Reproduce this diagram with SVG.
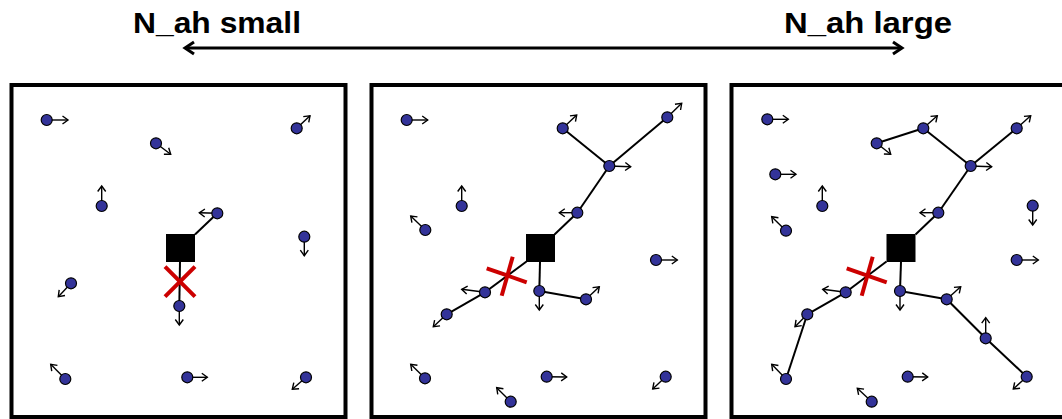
<svg xmlns="http://www.w3.org/2000/svg" width="1062" height="419" viewBox="0 0 1062 419">
<style>
.frame{fill:none;stroke:#000;stroke-width:4}
.e{stroke:#000;stroke-width:2;fill:none}
.mv{stroke:#000;stroke-width:1.4;fill:none;marker-end:url(#ah)}
.n{fill:#333399;stroke:#000;stroke-width:1.2}
.x{stroke:#cc0000;stroke-width:4;fill:none}
.sq{fill:#000}
.t{font-family:"Liberation Sans",Arial,sans-serif;font-weight:bold;font-size:29px;fill:#000}
</style>
<defs>
<marker id="ah" markerUnits="userSpaceOnUse" markerWidth="10" markerHeight="10" refX="6" refY="4.5" orient="auto" overflow="visible">
<path d="M0.5,0.5 L6,4.5 L0.5,8.5" fill="none" stroke="#000" stroke-width="1.4"/>
</marker>
<marker id="big" markerUnits="userSpaceOnUse" markerWidth="14" markerHeight="16" refX="10" refY="7" orient="auto-start-reverse" overflow="visible">
<path d="M1,1 L10,7 L1,13" fill="none" stroke="#000" stroke-width="3"/>
</marker>
</defs>
<rect width="1062" height="419" fill="#fff"/>

<g id="header">
<text class="t" x="133" y="33" textLength="168" lengthAdjust="spacingAndGlyphs">N_ah small</text>
<text class="t" x="784" y="33" textLength="168" lengthAdjust="spacingAndGlyphs">N_ah large</text>
<line x1="185" y1="48" x2="902" y2="48" stroke="#000" stroke-width="3" marker-start="url(#big)" marker-end="url(#big)"/>
</g>

<g id="frames">
<rect class="frame" x="11.5" y="85" width="334" height="332"/>
<rect class="frame" x="371.5" y="85" width="334" height="332"/>
<rect class="frame" x="731.5" y="85" width="334" height="332"/>
</g>

<g id="connectors">
<!-- panel 1 -->
<line class="e" x1="217.3" y1="213.3" x2="195" y2="234.5"/>
<line class="e" x1="180" y1="262" x2="179.3" y2="306"/>
<!-- panel 2 -->
<line class="e" x1="562.7" y1="128.3" x2="609.3" y2="166"/>
<line class="e" x1="667.3" y1="117.3" x2="609.3" y2="166"/>
<line class="e" x1="609.3" y1="166" x2="577.3" y2="212.7"/>
<line class="e" x1="577.3" y1="212.7" x2="554.5" y2="234.5"/>
<line class="e" x1="526.5" y1="261.5" x2="485" y2="292.3"/>
<line class="e" x1="485" y1="292.3" x2="446.7" y2="314.3"/>
<line class="e" x1="540" y1="262" x2="539.3" y2="291"/>
<line class="e" x1="539.3" y1="291" x2="586" y2="299.3"/>
<!-- panel 3 -->
<line class="e" x1="876.7" y1="143.3" x2="923.3" y2="128.3"/>
<line class="e" x1="923.3" y1="128.3" x2="970.7" y2="166"/>
<line class="e" x1="1016.7" y1="128.3" x2="970.7" y2="166"/>
<line class="e" x1="970.7" y1="166" x2="938.3" y2="212.7"/>
<line class="e" x1="938.3" y1="212.7" x2="915.5" y2="234.5"/>
<line class="e" x1="886.5" y1="261.5" x2="845.7" y2="292.3"/>
<line class="e" x1="845.7" y1="292.3" x2="807.3" y2="314.3"/>
<line class="e" x1="807.3" y1="314.3" x2="786" y2="379"/>
<line class="e" x1="901" y1="262" x2="900" y2="291"/>
<line class="e" x1="900" y1="291" x2="946.7" y2="299.3"/>
<line class="e" x1="946.7" y1="299.3" x2="985.7" y2="338.3"/>
<line class="e" x1="985.7" y1="338.3" x2="1026.7" y2="376.7"/>
</g>

<g id="sinks">
<rect id="sink1" class="sq" x="166" y="234" width="29" height="28"/>
<rect id="sink2" class="sq" x="526" y="234" width="29" height="28"/>
<rect id="sink3" class="sq" x="886.5" y="234" width="29" height="28"/>
</g>

<g id="breaks">
<g id="x1"><line class="x" x1="165" y1="266.7" x2="195" y2="296.7"/><line class="x" x1="195" y1="266.7" x2="165" y2="296.7"/></g>
<g id="x2"><line class="x" x1="486.7" y1="268.3" x2="526.7" y2="282.3"/><line class="x" x1="512.7" y1="256.7" x2="501.7" y2="295.7"/></g>
<g id="x3"><line class="x" x1="846.7" y1="268.3" x2="886.7" y2="282.3"/><line class="x" x1="872.7" y1="256.7" x2="861.7" y2="295.7"/></g>
</g>

<!-- panel 1 nodes -->
<g id="p1n1"><line class="mv" x1="46.7" y1="120" x2="68" y2="120"/><circle class="n" cx="46.7" cy="120" r="5.5"/></g>
<g id="p1n2"><line class="mv" x1="156" y1="143.3" x2="170.7" y2="154.3"/><circle class="n" cx="156" cy="143.3" r="5.5"/></g>
<g id="p1n3"><line class="mv" x1="296.7" y1="128.3" x2="310" y2="115.7"/><circle class="n" cx="296.7" cy="128.3" r="5.5"/></g>
<g id="p1n4"><line class="mv" x1="101.7" y1="206" x2="101.7" y2="186"/><circle class="n" cx="101.7" cy="206" r="5.5"/></g>
<g id="p1n5"><line class="mv" x1="217.3" y1="213.3" x2="199.3" y2="212.8"/><circle class="n" cx="217.3" cy="213.3" r="5.5"/></g>
<g id="p1n6"><line class="mv" x1="304.3" y1="236.7" x2="304.3" y2="255.7"/><circle class="n" cx="304.3" cy="236.7" r="5.5"/></g>
<g id="p1n7"><line class="mv" x1="179.3" y1="306" x2="179.3" y2="325"/><circle class="n" cx="179.3" cy="306" r="5.5"/></g>
<g id="p1n8"><line class="mv" x1="71" y1="283.3" x2="58.3" y2="296.7"/><circle class="n" cx="71" cy="283.3" r="5.5"/></g>
<g id="p1n9"><line class="mv" x1="65.3" y1="379" x2="50.7" y2="364.3"/><circle class="n" cx="65.3" cy="379" r="5.5"/></g>
<g id="p1n10"><line class="mv" x1="187.3" y1="377.3" x2="207.3" y2="377.3"/><circle class="n" cx="187.3" cy="377.3" r="5.5"/></g>
<g id="p1n11"><line class="mv" x1="306" y1="377.3" x2="292.3" y2="389.3"/><circle class="n" cx="306" cy="377.3" r="5.5"/></g>

<!-- panel 2 nodes -->
<g id="p2n1"><line class="mv" x1="406.7" y1="120" x2="427.7" y2="120"/><circle class="n" cx="406.7" cy="120" r="5.5"/></g>
<g id="p2n2"><line class="mv" x1="461.7" y1="206" x2="461.7" y2="186"/><circle class="n" cx="461.7" cy="206" r="5.5"/></g>
<g id="p2n3"><line class="mv" x1="425.3" y1="230" x2="410.7" y2="216"/><circle class="n" cx="425.3" cy="230" r="5.5"/></g>
<g id="p2n4"><line class="mv" x1="562.7" y1="128.3" x2="576.7" y2="115"/><circle class="n" cx="562.7" cy="128.3" r="5.5"/></g>
<g id="p2n5"><line class="mv" x1="667.3" y1="117.3" x2="681.7" y2="103.3"/><circle class="n" cx="667.3" cy="117.3" r="5.5"/></g>
<g id="p2n6"><line class="mv" x1="609.3" y1="166" x2="630.7" y2="166.7"/><circle class="n" cx="609.3" cy="166" r="5.5"/></g>
<g id="p2n7"><line class="mv" x1="577.3" y1="212.7" x2="559.3" y2="212.7"/><circle class="n" cx="577.3" cy="212.7" r="5.5"/></g>
<g id="p2n8"><line class="mv" x1="656" y1="260" x2="677.3" y2="260"/><circle class="n" cx="656" cy="260" r="5.5"/></g>
<g id="p2n9"><line class="mv" x1="485" y1="292.3" x2="461.7" y2="289.3"/><circle class="n" cx="485" cy="292.3" r="5.5"/></g>
<g id="p2n10"><line class="mv" x1="446.7" y1="314.3" x2="433.3" y2="326.7"/><circle class="n" cx="446.7" cy="314.3" r="5.5"/></g>
<g id="p2n11"><line class="mv" x1="539.3" y1="291" x2="539.3" y2="310"/><circle class="n" cx="539.3" cy="291" r="5.5"/></g>
<g id="p2n12"><line class="mv" x1="586" y1="299.3" x2="599.3" y2="286.7"/><circle class="n" cx="586" cy="299.3" r="5.5"/></g>
<g id="p2n13"><line class="mv" x1="425" y1="378.3" x2="410.7" y2="364.3"/><circle class="n" cx="425" cy="378.3" r="5.5"/></g>
<g id="p2n14"><line class="mv" x1="510.7" y1="401.7" x2="496.7" y2="387.7"/><circle class="n" cx="510.7" cy="401.7" r="5.5"/></g>
<g id="p2n15"><line class="mv" x1="546.7" y1="376.7" x2="566.7" y2="377"/><circle class="n" cx="546.7" cy="376.7" r="5.5"/></g>
<g id="p2n16"><line class="mv" x1="665.7" y1="376.7" x2="652.7" y2="389"/><circle class="n" cx="665.7" cy="376.7" r="5.5"/></g>

<!-- panel 3 nodes -->
<g id="p3n1"><line class="mv" x1="767.3" y1="119.3" x2="788.3" y2="119.3"/><circle class="n" cx="767.3" cy="119.3" r="5.5"/></g>
<g id="p3n2"><line class="mv" x1="775.3" y1="174.3" x2="796" y2="174.3"/><circle class="n" cx="775.3" cy="174.3" r="5.5"/></g>
<g id="p3n3"><line class="mv" x1="822.3" y1="206" x2="822.3" y2="186"/><circle class="n" cx="822.3" cy="206" r="5.5"/></g>
<g id="p3n4"><line class="mv" x1="786" y1="230.7" x2="771.7" y2="216.7"/><circle class="n" cx="786" cy="230.7" r="5.5"/></g>
<g id="p3n5"><line class="mv" x1="876.7" y1="143.3" x2="890.7" y2="154.3"/><circle class="n" cx="876.7" cy="143.3" r="5.5"/></g>
<g id="p3n6"><line class="mv" x1="923.3" y1="128.3" x2="937.3" y2="115.7"/><circle class="n" cx="923.3" cy="128.3" r="5.5"/></g>
<g id="p3n7"><line class="mv" x1="1016.7" y1="128.3" x2="1030.7" y2="115.7"/><circle class="n" cx="1016.7" cy="128.3" r="5.5"/></g>
<g id="p3n8"><line class="mv" x1="970.7" y1="166" x2="991.7" y2="166.7"/><circle class="n" cx="970.7" cy="166" r="5.5"/></g>
<g id="p3n9"><line class="mv" x1="938.3" y1="212.7" x2="920" y2="212.7"/><circle class="n" cx="938.3" cy="212.7" r="5.5"/></g>
<g id="p3n10"><line class="mv" x1="1032.7" y1="205.7" x2="1032.7" y2="225"/><circle class="n" cx="1032.7" cy="205.7" r="5.5"/></g>
<g id="p3n11"><line class="mv" x1="1016.7" y1="260" x2="1038.3" y2="260"/><circle class="n" cx="1016.7" cy="260" r="5.5"/></g>
<g id="p3n12"><line class="mv" x1="845.7" y1="292.3" x2="822.7" y2="289.3"/><circle class="n" cx="845.7" cy="292.3" r="5.5"/></g>
<g id="p3n13"><line class="mv" x1="807.3" y1="314.3" x2="795" y2="326.7"/><circle class="n" cx="807.3" cy="314.3" r="5.5"/></g>
<g id="p3n14"><line class="mv" x1="786" y1="379" x2="771.7" y2="364.3"/><circle class="n" cx="786" cy="379" r="5.5"/></g>
<g id="p3n15"><line class="mv" x1="900" y1="291" x2="900" y2="310"/><circle class="n" cx="900" cy="291" r="5.5"/></g>
<g id="p3n16"><line class="mv" x1="946.7" y1="299.3" x2="960.7" y2="286.7"/><circle class="n" cx="946.7" cy="299.3" r="5.5"/></g>
<g id="p3n17"><line class="mv" x1="985.7" y1="338.3" x2="985.7" y2="317.7"/><circle class="n" cx="985.7" cy="338.3" r="5.5"/></g>
<g id="p3n18"><line class="mv" x1="1026.7" y1="376.7" x2="1013.3" y2="389"/><circle class="n" cx="1026.7" cy="376.7" r="5.5"/></g>
<g id="p3n19"><line class="mv" x1="907.7" y1="376.7" x2="927.7" y2="377"/><circle class="n" cx="907.7" cy="376.7" r="5.5"/></g>
<g id="p3n20"><line class="mv" x1="871.7" y1="401.7" x2="857.3" y2="388.3"/><circle class="n" cx="871.7" cy="401.7" r="5.5"/></g>
</svg>
